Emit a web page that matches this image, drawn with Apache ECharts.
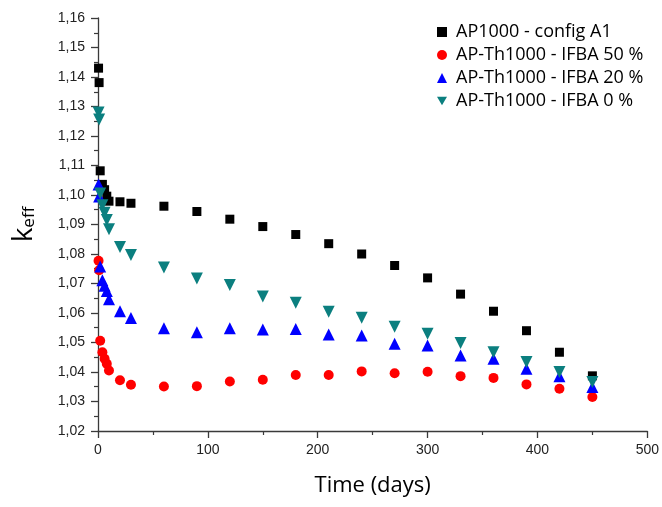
<!DOCTYPE html>
<html>
<head>
<meta charset="utf-8">
<script src="https://cdn.jsdelivr.net/npm/echarts@6/dist/echarts.min.js"></script>
<style>html,body{margin:0;padding:0;background:#fff}#c{width:662px;height:507px}</style>
</head>
<body>
<div id="c"></div>
<script>
// Time points (days)
var days = [0.5, 1, 2, 4, 6, 8, 10, 20, 30, 60, 90, 120, 150, 180, 210, 240, 270, 300, 330, 360, 390, 420, 450];
// k_eff values
var ap1000A1 = [1.1430, 1.1381, 1.1082, 1.1036, 1.1018, 1.0996, 1.0979, 1.0977, 1.0972, 1.0962, 1.0944, 1.0918, 1.0893, 1.0866, 1.0835, 1.0800, 1.0761, 1.0719, 1.0664, 1.0606, 1.0540, 1.0467, 1.0387];
var ifba50 = [1.0777, 1.0745, 1.0506, 1.0467, 1.0445, 1.0428, 1.0405, 1.0372, 1.0357, 1.0351, 1.0352, 1.0368, 1.0374, 1.0390, 1.0390, 1.0402, 1.0396, 1.0401, 1.0386, 1.0380, 1.0358, 1.0343, 1.0315];
var ifba20 = [1.1036, 1.0995, 1.0758, 1.0711, 1.0692, 1.0675, 1.0647, 1.0606, 1.0583, 1.0548, 1.0535, 1.0548, 1.0544, 1.0546, 1.0527, 1.0524, 1.0496, 1.0490, 1.0456, 1.0445, 1.0411, 1.0386, 1.0349];
var ifba0 = [1.1280, 1.1256, 1.1005, 1.0965, 1.0940, 1.0915, 1.0884, 1.0824, 1.0797, 1.0754, 1.0717, 1.0695, 1.0656, 1.0635, 1.0604, 1.0584, 1.0553, 1.0530, 1.0498, 1.0467, 1.0434, 1.0400, 1.0366];
var seriesNames = ['AP1000 - config A1', 'AP-Th1000 - IFBA 50 %', 'AP-Th1000 - IFBA 20 %', 'AP-Th1000 - IFBA 0 %'];

function pairs(v) { return days.map(function (d, i) { return [d, v[i]]; }); }

var downTri = 'path://M0,0 L10,0 L5,8.66 Z';
var chart = echarts.init(document.getElementById('c'), null, { renderer: 'canvas' });
var tickFont = 'Liberation Sans, Arial, sans-serif';
var axisCol = '#3a3a3a';
chart.setOption({
  animation: false,
  backgroundColor: '#fff',
  grid: { left: 96, right: 13, top: 18, bottom: 76 },
  legend: {
    orient: 'vertical', left: 432, top: 18,
    itemWidth: 10, itemHeight: 10, itemGap: 5,
    textStyle: { fontFamily: 'Open Sans', fontSize: 18, lineHeight: 18, color: '#000', padding: [0, 0, 0, 4] },
    data: [
      { name: seriesNames[0], icon: 'rect' },
      { name: seriesNames[1], icon: 'circle' },
      { name: seriesNames[2], icon: 'triangle' },
      { name: seriesNames[3], icon: downTri }
    ]
  },
  xAxis: {
    type: 'value', min: 0, max: 500, interval: 100,
    name: 'Time (days)', nameLocation: 'middle', nameGap: 44,
    nameTextStyle: { fontFamily: 'Open Sans', fontSize: 22, color: '#000' },
    axisLine: { show: true, onZero: false, lineStyle: { color: axisCol, width: 1.3 } },
    axisTick: { show: true, length: 7, lineStyle: { color: axisCol, width: 1.3 } },
    minorTick: { show: true, splitNumber: 2, length: 4, lineStyle: { color: axisCol, width: 1.2 } },
    splitLine: { show: false },
    axisLabel: { fontFamily: tickFont, fontSize: 14, color: '#222', margin: 12 }
  },
  yAxis: {
    type: 'value', min: 1.02, max: 1.16, interval: 0.01,
    name: '{k|k}{s|eff}', nameLocation: 'middle', nameGap: 60, nameRotate: 90,
    nameTextStyle: {
      color: '#000',
      rich: {
        k: { fontFamily: 'Open Sans', fontSize: 28, lineHeight: 28, verticalAlign: 'top', color: '#000' },
        s: { fontFamily: 'Open Sans', fontSize: 17, lineHeight: 17, verticalAlign: 'bottom', padding: [13, 0, 0, 0], color: '#000' }
      }
    },
    axisLine: { show: true, onZero: false, lineStyle: { color: axisCol, width: 1.3 } },
    axisTick: { show: true, length: 7, lineStyle: { color: axisCol, width: 1.3 } },
    minorTick: { show: true, splitNumber: 2, length: 4, lineStyle: { color: axisCol, width: 1.2 } },
    splitLine: { show: false },
    axisLabel: {
      fontFamily: tickFont, fontSize: 14, color: '#222', margin: 13,
      formatter: function (v) { return v.toFixed(2).replace('.', ','); }
    }
  },
  series: [
    { name: seriesNames[0], type: 'scatter', data: pairs(ap1000A1), symbol: 'rect', symbolSize: 9, itemStyle: { color: '#000', opacity: 1 } },
    { name: seriesNames[1], type: 'scatter', data: pairs(ifba50), symbol: 'circle', symbolSize: 10, itemStyle: { color: '#ff0000', opacity: 1 } },
    { name: seriesNames[2], type: 'scatter', data: pairs(ifba20), symbol: 'triangle', symbolSize: 12, itemStyle: { color: '#0000ff', opacity: 1 } },
    { name: seriesNames[3], type: 'scatter', data: pairs(ifba0), symbol: 'triangle', symbolRotate: 180, symbolSize: 12, itemStyle: { color: '#0b7f7f', opacity: 1 } }
  ]
});
</script>
</body>
</html>
